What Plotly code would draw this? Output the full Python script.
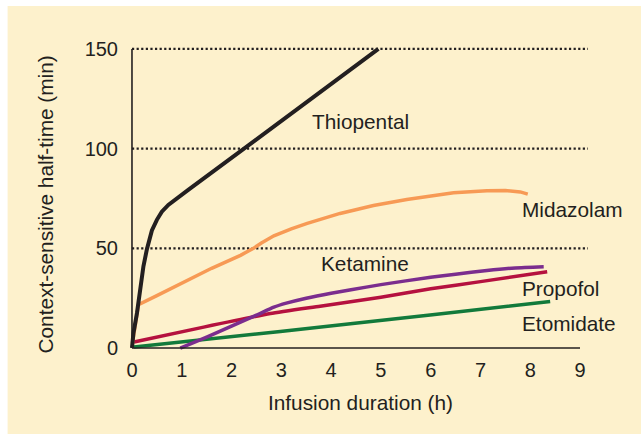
import plotly.graph_objects as go

# ---- data ----
thio_x = [0, 0.01, 0.03, 0.1, 0.16, 0.23, 0.3, 0.4, 0.5, 0.6, 0.73, 1.13, 4.95]
thio_y = [0, 3, 7.5, 17.5, 29, 41, 49.6, 59, 64.3, 68.4, 71.8, 79.3, 150]

mida_x = [0.01, 0.13, 0.5, 1.13, 1.6, 2.18, 2.44, 2.6, 2.85, 3.2, 3.52, 4.18, 4.85, 5.52, 6.19, 6.46, 7.13, 7.5, 7.8, 7.95]
mida_y = [2.5, 21.7, 26.3, 34.2, 40, 46.5, 50, 52.7, 56.3, 59.8, 62.5, 67.5, 71.5, 74.5, 77.2, 77.9, 78.9, 79, 78.3, 77.2]

keta_x = [0.97, 1.5, 2, 2.5, 2.85, 3.1, 3.5, 4, 4.4, 5, 6, 6.5, 7.13, 7.7, 8.27]
keta_y = [0, 5.5, 11, 16.5, 20.5, 22.5, 25, 27.5, 29.2, 31.8, 35.5, 37, 38.9, 40.2, 40.8]

prop_x = [0.04, 1.44, 2.78, 3.78, 5, 6, 7, 8.34]
prop_y = [3, 10.5, 17.3, 21, 25.5, 29.7, 33.3, 38.3]

etom_x = [0.04, 2.98, 5.99, 8.4]
etom_y = [0.5, 8.3, 16.6, 23.3]

x_ticks = [0, 1, 2, 3, 4, 5, 6, 7, 8, 9]
y_ticks = [0, 50, 100, 150]
grid_vals = [50, 100, 150]

drugs = ["Thiopental", "Midazolam", "Ketamine", "Propofol", "Etomidate"]

# ---- styling ----
W, H = 641, 434
INK = "#231F20"
CREAM = "#FDF1CC"
FONT = "Liberation Sans, Arial, sans-serif"
colors = {"Thiopental": "#231F20", "Midazolam": "#F79A55", "Ketamine": "#7B2D8E",
          "Propofol": "#B5113F", "Etomidate": "#127A3B"}

XR = [-0.1, 9.2]
YR = [-4, 154]
ML, MR, MT, MB = 126.5, 51.1, 41.0, 77.8
pw = W - ML - MR
ph = H - MT - MB

def px2paper_x(px):
    return (px - ML) / pw

def px2paper_y(py):
    return (H - MB - py) / ph

fig = go.Figure()
series = {"Thiopental": (thio_x, thio_y), "Midazolam": (mida_x, mida_y),
          "Ketamine": (keta_x, keta_y), "Propofol": (prop_x, prop_y),
          "Etomidate": (etom_x, etom_y)}
widths = {"Thiopental": 4, "Midazolam": 3.5, "Ketamine": 3.5, "Propofol": 3.5, "Etomidate": 3.5}
shape_kind = {"Thiopental": "linear", "Midazolam": "linear", "Ketamine": "spline",
              "Propofol": "spline", "Etomidate": "spline"}
for name in ["Etomidate", "Propofol", "Ketamine", "Midazolam", "Thiopental"]:
    xs, ys = series[name]
    line = dict(color=colors[name], width=widths[name], shape=shape_kind[name])
    if shape_kind[name] == "spline":
        line["smoothing"] = 0.5
    fig.add_trace(go.Scatter(x=xs, y=ys, mode="lines", name=name, line=line,
                             hoverinfo="skip", showlegend=False))

shapes = []
# cream panel
shapes.append(dict(type="rect", xref="paper", yref="paper",
                   x0=px2paper_x(7), x1=px2paper_x(W + 2), y0=px2paper_y(H + 2), y1=px2paper_y(6),
                   fillcolor=CREAM, line=dict(width=0), layer="below"))
# dotted gridlines
for g in grid_vals:
    shapes.append(dict(type="line", xref="x", yref="y", x0=0, x1=9.16, y0=g, y1=g,
                       line=dict(color=INK, width=2.2, dash="2.2px,2.4px"), layer="below"))
# axes
shapes.append(dict(type="line", xref="x", yref="y", x0=0, x1=9, y0=0, y1=0,
                   line=dict(color=INK, width=1.6), layer="above"))
shapes.append(dict(type="line", xref="x", yref="y", x0=0, x1=0, y0=0, y1=150,
                   line=dict(color=INK, width=1.6), layer="above"))

annotations = []
label_pos = {"Thiopental": (3.58, 113.5), "Midazolam": (7.8, 69.3), "Ketamine": (3.75, 42.6),
             "Propofol": (7.8, 29.7), "Etomidate": (7.8, 12.1)}
for name in drugs:
    lx, ly = label_pos[name]
    annotations.append(dict(x=lx, y=ly, xref="x", yref="y", text=name, showarrow=False,
                            xanchor="left", yanchor="middle",
                            font=dict(family=FONT, size=20.8, color=INK)))
annotations.append(dict(x=px2paper_x(360), y=px2paper_y(403), xref="paper", yref="paper",
                        text="Infusion duration (h)", showarrow=False, xanchor="center", yanchor="middle",
                        font=dict(family=FONT, size=20.8, color=INK)))
annotations.append(dict(x=px2paper_x(45), y=px2paper_y(205), xref="paper", yref="paper",
                        text="Context-sensitive half-time (min)", showarrow=False, textangle=-90,
                        xanchor="center", yanchor="middle",
                        font=dict(family=FONT, size=20.8, color=INK)))

fig.update_layout(
    width=W, height=H,
    margin=dict(l=ML, r=MR, t=MT, b=MB, pad=0),
    paper_bgcolor="white", plot_bgcolor="rgba(0,0,0,0)",
    shapes=shapes, annotations=annotations,
    xaxis=dict(range=XR, tickvals=x_ticks, ticktext=[str(v) for v in x_ticks],
               showgrid=False, zeroline=False, showline=False, ticks="",
               tickfont=dict(family=FONT, size=20, color=INK)),
    yaxis=dict(range=YR, tickvals=y_ticks, ticktext=[str(v) for v in y_ticks],
               showgrid=False, zeroline=False, showline=False, ticks="",
               ticklabelstandoff=8,
               tickfont=dict(family=FONT, size=20, color=INK)),
)

fig.write_html("out.html", config={"displayModeBar": False, "staticPlot": True},
               post_script="document.body.style.margin='0';document.body.style.padding='0';document.body.style.overflow='hidden';")
